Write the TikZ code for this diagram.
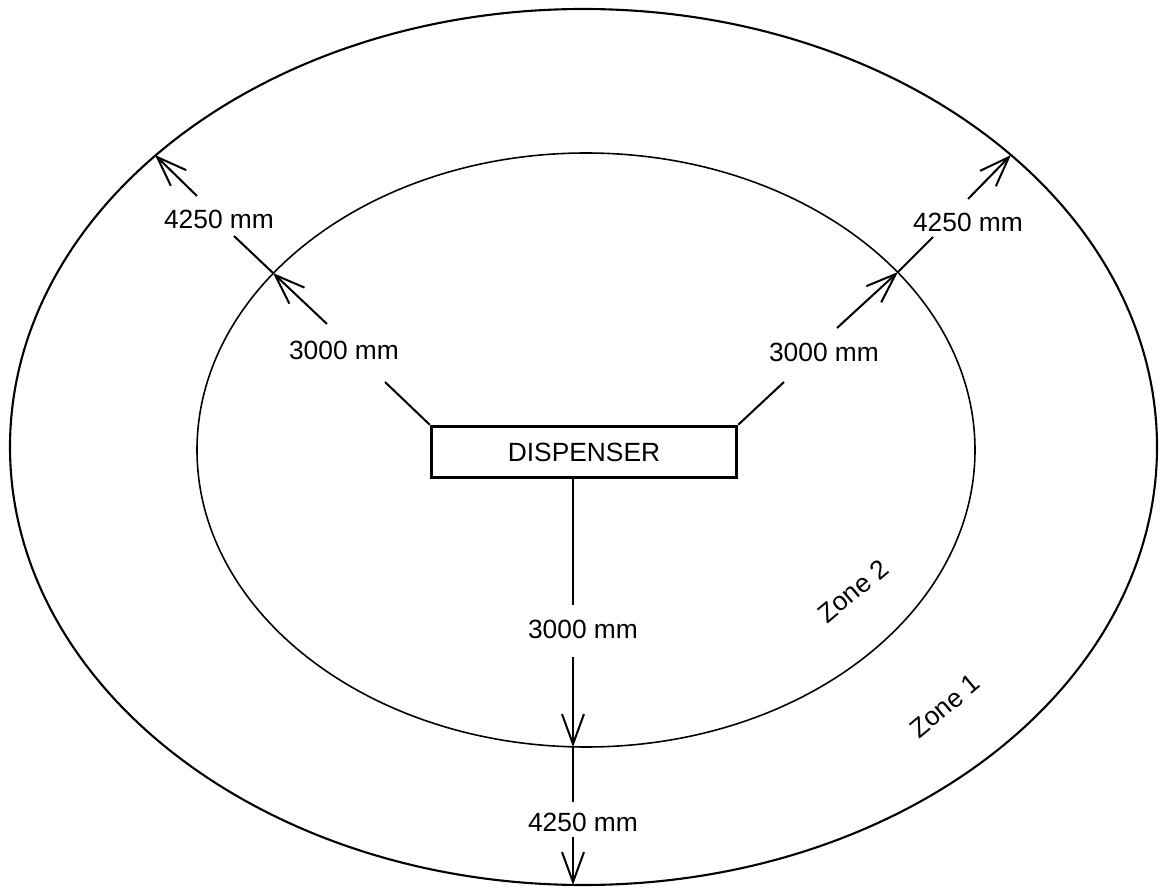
\documentclass[tikz,border=0pt]{standalone}
\usepackage{fontspec}
\setmainfont{Liberation Sans}
\usetikzlibrary{arrows.meta}

\tikzset{
	dimline/.style={line width=1.15pt},
	dimarrow/.style={dimline, -{Straight Barb[length=6mm, width=4.4mm, line width=1.15pt]}},
	dimlabel/.style={font=\fontsize{15}{18}\selectfont, inner sep=0pt},
	zonelabel/.style={font=\fontsize{15}{18}\selectfont, inner sep=0pt, rotate=40},
}

\begin{document}
\begin{tikzpicture}[x=0.02cm, y=-0.02cm]
		\useasboundingbox (0,0) rectangle (1160,888);
		
		% Draw the zone boundaries
		\draw[line width=1.2pt] (583.5,447) ellipse [x radius=573.5, y radius=438];
		\draw[line width=0.9pt] (586,450) ellipse [x radius=389, y radius=297];
		
		% The dispenser in the middle
		\node[draw, line width=2pt, minimum width=6.1cm, minimum height=1.02cm,
			font=\fontsize{15}{18}\selectfont] (box) at (584,452) {DISPENSER};
		
		% Labels
		\node[dimlabel] (innerL) at (344,350) {3000 mm};
		\node[dimlabel] (outerL) at (219,219) {4250 mm};
		\node[dimlabel] (innerR) at (824,352) {3000 mm};
		\node[dimlabel] (outerR) at (968,222) {4250 mm};
		\node[dimlabel] (innerD) at (583,629) {3000 mm};
		\node[dimlabel] (outerD) at (583,822) {4250 mm};
		\node[zonelabel] (zone2) at (853,591) {Zone 2};
		\node[zonelabel] (zone1) at (945,706) {Zone 1};
		
		% Ends of the line pieces and the arrow tips
		\coordinate (a1) at (385,382);
		\coordinate (a2) at (327,324);
		\coordinate (tipA) at (273,273);
		\coordinate (a3) at (234,236);
		\coordinate (a4) at (197,196);
		\coordinate (endA) at (155,155);
		
		\coordinate (b1) at (784,382);
		\coordinate (b2) at (837,328);
		\coordinate (tipB) at (898,272);
		\coordinate (b3) at (933,237);
		\coordinate (b4) at (968,199);
		\coordinate (endB) at (1011,155);
		
		\coordinate (c1) at (573,605);
		\coordinate (c2) at (573,657);
		\coordinate (tipC) at (573,747);
		\coordinate (c3) at (573,802);
		\coordinate (c4) at (573,837);
		\coordinate (endC) at (573,885);
		
		% Up and to the left
		\draw[dimline] (box.north west) -- (a1);
		\draw[dimarrow] (a2) -- (tipA);
		\draw[dimline] (tipA) -- (a3);
		\draw[dimarrow] (a4) -- (endA);
		
		% Up and to the right
		\draw[dimline] (box.north east) -- (b1);
		\draw[dimarrow] (b2) -- (tipB);
		\draw[dimline] (tipB) -- (b3);
		\draw[dimarrow] (b4) -- (endB);
		
		% Down
		\draw[dimline] (box.south -| c1) -- (c1);
		\draw[dimarrow] (c2) -- (tipC);
		\draw[dimline] (tipC) -- (c3);
		\draw[dimarrow] (c4) -- (endC);
	\end{tikzpicture}
\end{document}
